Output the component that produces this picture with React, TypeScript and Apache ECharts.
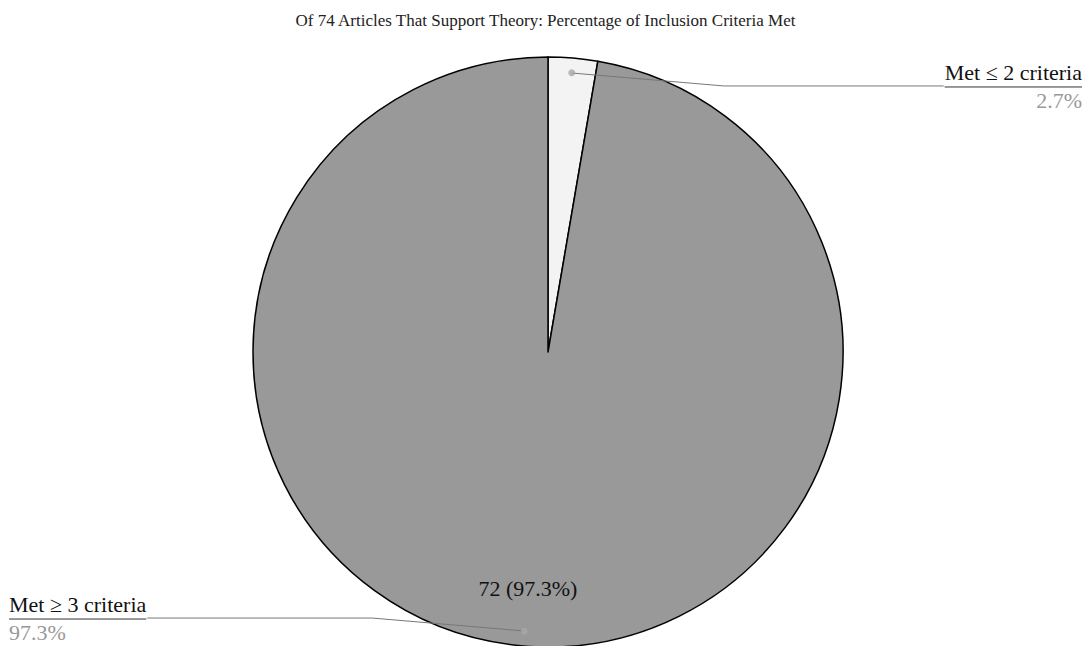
import React, { useEffect, useRef } from "react";
import * as echarts from "echarts";

const title = "Of 74 Articles That Support Theory: Percentage of Inclusion Criteria Met";
const categories = ["Met \u2264 2 criteria", "Met \u2265 3 criteria"];
const counts = [2, 72];
const sliceColors = ["#f3f3f3", "#999999"];

const FONT = "'Liberation Serif', 'Times New Roman', serif";

export default function App() {
  const ref = useRef<HTMLDivElement>(null);
  useEffect(() => {
    if (!ref.current) return;
    const chart = echarts.init(ref.current, null, { renderer: "svg" });
    const data = categories.map((name, i) => ({
      name,
      value: counts[i],
      itemStyle: { color: sliceColors[i] },
    }));
    const total = counts.reduce((a, b) => a + b, 0);
    // dot at the middle of each slice (cumulative midpoint), on the label ring
    let acc = 0;
    const dotData = counts.map((v) => {
      const mid = acc + v / 2;
      acc += v;
      return [0.95, mid];
    });
    const center = [548, 352];
    const R = 295;
    chart.setOption({
      animation: false,
      title: {
        text: title,
        left: "center",
        top: 7,
        textStyle: { fontFamily: FONT, fontSize: 17, fontWeight: "normal", color: "#222" },
      },
      polar: { center, radius: R },
      angleAxis: { type: "value", min: 0, max: total, startAngle: 90, clockwise: true, show: false },
      radiusAxis: { type: "value", min: 0, max: 1, show: false },
      series: [
        {
          type: "pie",
          z: 1,
          center,
          radius: R,
          startAngle: 90,
          clockwise: true,
          silent: true,
          data,
          label: { show: false },
          labelLine: { show: false },
          itemStyle: { borderColor: "#000", borderWidth: 1.5 },
        },
        {
          type: "pie",
          z: 3,
          center,
          radius: [173, R],
          startAngle: 90,
          silent: true,
          percentPrecision: 1,
          minShowLabelAngle: 20,
          data: data.map((d) => ({ name: d.name, value: d.value })),
          itemStyle: { color: "transparent", borderWidth: 0 },
          label: {
            show: true,
            position: "inside",
            formatter: "{c} ({d}%)",
            fontFamily: FONT,
            fontSize: 22,
            color: "#111",
          },
          labelLine: { show: false },
        },
        {
          type: "pie",
          z: 4,
          center,
          radius: 280,
          startAngle: 90,
          silent: true,
          percentPrecision: 1,
          data: data.map((d) => ({ name: d.name, value: d.value })),
          itemStyle: { color: "transparent", borderWidth: 0 },
          label: {
            show: true,
            position: "outside",
            alignTo: "edge",
            edgeDistance: 9,
            distanceToLabelLine: 0,
            formatter: "{name|{b}}\n{hr|}\n{pct|{d}%}",
            fontFamily: FONT,
            rich: {
              name: { fontFamily: FONT, fontSize: 22, color: "#111", lineHeight: 29 },
              hr: { width: "100%", height: 0, borderWidth: 1, borderColor: "#777" },
              pct: { fontFamily: FONT, fontSize: 22, color: "#999", lineHeight: 27 },
            },
          },
          labelLine: {
            show: true,
            length: -13,
            length2: 40,
            lineStyle: { color: "#777", width: 1 },
          },
        },
        {
          type: "scatter",
          coordinateSystem: "polar",
          z: 5,
          silent: true,
          symbol: "circle",
          symbolSize: 7,
          itemStyle: { color: "#a8a8a8" },
          data: dotData,
        },
      ],
    });
    return () => chart.dispose();
  }, []);
  return (
    <div
      ref={ref}
      style={{ position: "fixed", left: 0, top: 0, width: 1091, height: 646, background: "#fff" }}
    />
  );
}
